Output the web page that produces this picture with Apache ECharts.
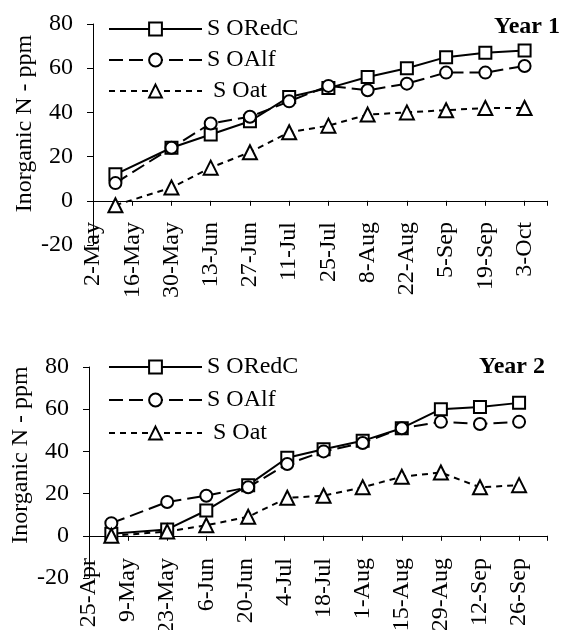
<!DOCTYPE html>
<html>
<head>
<meta charset="utf-8">
<script src="https://cdn.jsdelivr.net/npm/echarts@6/dist/echarts.min.js"></script>
<style>
html,body{margin:0;padding:0;background:#fff;}
#c{width:564px;height:630px;}
</style>
</head>
<body>
<div id="c"></div>
<script>
// ---------- data ----------
const seriesNames = ['S ORedC', 'S OAlf', 'S Oat'];
const yAxisTitle = 'Inorganic N - ppm';

// Year 1
const year1Title = 'Year 1';
const year1AxisStart = '2-May';
const year1AxisEnd = '11-Oct';
const year1TickLabels = ['2-May','16-May','30-May','13-Jun','27-Jun','11-Jul','25-Jul','8-Aug','22-Aug','5-Sep','19-Sep','3-Oct'];
const year1Dates = ['10-May','30-May','13-Jun','27-Jun','11-Jul','25-Jul','8-Aug','22-Aug','5-Sep','19-Sep','3-Oct'];
const year1RedC = [12, 24, 30, 36, 47, 51, 56, 60, 65, 67, 68];
const year1Alf  = [8, 24, 35, 38, 45, 52, 50, 53, 58, 58, 61];
const year1Oat  = [-2, 6, 15, 22, 31, 34, 39, 40, 41, 42, 42];

// Year 2
const year2Title = 'Year 2';
const year2AxisStart = '25-Apr';
const year2AxisEnd = '6-Oct';
const year2TickLabels = ['25-Apr','9-May','23-May','6-Jun','20-Jun','4-Jul','18-Jul','1-Aug','15-Aug','29-Aug','12-Sep','26-Sep'];
const year2Dates = ['3-May','23-May','6-Jun','21-Jun','5-Jul','18-Jul','1-Aug','15-Aug','29-Aug','12-Sep','26-Sep'];
const year2RedC = [1, 3, 12, 24, 37, 41, 45, 51, 60, 61, 63];
const year2Alf  = [6, 16, 19, 23, 34, 40, 44, 51, 54, 53, 54];
const year2Oat  = [0, 2, 5, 9, 18, 19, 23, 28, 30, 23, 24];

const yMin = -20, yMax = 80, yStep = 20;

// ---------- helpers ----------
const MONTHS = ['Jan','Feb','Mar','Apr','May','Jun','Jul','Aug','Sep','Oct','Nov','Dec'];
function dayNum(s) {
  const parts = s.split('-');
  return Date.UTC(2001, MONTHS.indexOf(parts[1]), +parts[0]) / 86400000;
}
function dayLabel(n) {
  const d = new Date(Math.round(n) * 86400000);
  return d.getUTCDate() + '-' + MONTHS[d.getUTCMonth()];
}

const FONT = 'Liberation Serif, Times New Roman, serif';
const fs = 24;

const styles = [
  { symbol: 'rect', symbolSize: 12, lineType: 'solid' },
  { symbol: 'circle', symbolSize: 12, lineType: [14, 6] },
  { symbol: 'triangle', symbolSize: 14, lineType: [6, 5] }
];

function makePanel(idx, start, end, tickLabels, dates, values, grid, labelMargin, legendTop, legendGap, title, titleRight, titleTop, namePad) {
  const base = dayNum(start);
  const tickVals = tickLabels.map(t => dayNum(t) - base);
  const xAxis = {
    type: 'value', gridIndex: idx,
    min: 0, max: dayNum(end) - base, interval: 14,
    splitLine: { show: false },
    axisLine: { show: true, onZero: true, lineStyle: { color: '#000', width: 1 } },
    axisTick: { show: true, length: 5, lineStyle: { color: '#000' } },
    axisLabel: {
      rotate: 90, margin: labelMargin, customValues: tickVals,
      fontFamily: FONT, fontSize: fs, color: '#000',
      formatter: v => dayLabel(base + v)
    }
  };
  const yAxis = {
    type: 'value', gridIndex: idx,
    min: yMin, max: yMax, interval: yStep,
    splitLine: { show: false },
    axisLine: { show: true, onZero: false, lineStyle: { color: '#000', width: 1 } },
    axisTick: { show: true, length: 6, lineStyle: { color: '#000' } },
    axisLabel: { margin: 20, fontFamily: FONT, fontSize: fs, color: '#000' },
    name: yAxisTitle, nameLocation: 'middle', nameRotate: 90, nameGap: 56,
    nameMoveOverlap: false,
    nameTextStyle: { fontFamily: FONT, fontSize: fs, color: '#000', padding: [0, 0, 0, namePad] }
  };
  const series = values.map((vals, i) => ({
    name: seriesNames[i], type: 'line',
    xAxisIndex: idx, yAxisIndex: idx,
    data: vals.map((v, j) => [dayNum(dates[j]) - base, v]),
    symbol: styles[i].symbol, symbolSize: styles[i].symbolSize,
    showAllSymbol: true,
    lineStyle: { color: '#000', width: 2, type: styles[i].lineType },
    itemStyle: { color: '#fff', borderColor: '#000', borderWidth: 2 },
    emphasis: { disabled: true },
    animation: false
  }));
  const legend = {
    orient: 'vertical', left: 108, top: legendTop, padding: 0,
    itemWidth: 93, itemHeight: 16, itemGap: legendGap,
    data: seriesNames,
    textStyle: { fontFamily: FONT, fontSize: fs, color: '#000', lineHeight: 24 },
    formatter: n => (n === 'S Oat' ? ' ' + n : n),
    selectedMode: false
  };
  const ttl = {
    text: title, right: titleRight, top: titleTop, padding: 0,
    textStyle: { fontFamily: FONT, fontSize: fs, fontWeight: 'bold', color: '#000' }
  };
  grid.outerBoundsMode = 'none';
  return { grid, xAxis, yAxis, series, legend, title: ttl };
}

const p1 = makePanel(0, year1AxisStart, year1AxisEnd, year1TickLabels, year1Dates,
  [year1RedC, year1Alf, year1Oat],
  { left: 93, right: 17, top: 24, height: 221 }, -23, 17, 7, year1Title, 4, 15, 22);
const p2 = makePanel(1, year2AxisStart, year2AxisEnd, year2TickLabels, year2Dates,
  [year2RedC, year2Alf, year2Oat],
  { left: 89, right: 17, top: 367, height: 211 }, -20, 355, 9, year2Title, 19, 355, 35);

const chart = echarts.init(document.getElementById('c'), null, { renderer: 'canvas' });
chart.setOption({
  backgroundColor: '#fff',
  animation: false,
  title: [p1.title, p2.title],
  legend: [p1.legend, p2.legend],
  grid: [p1.grid, p2.grid],
  xAxis: [p1.xAxis, p2.xAxis],
  yAxis: [p1.yAxis, p2.yAxis],
  series: p1.series.concat(p2.series)
});
</script>
</body>
</html>
